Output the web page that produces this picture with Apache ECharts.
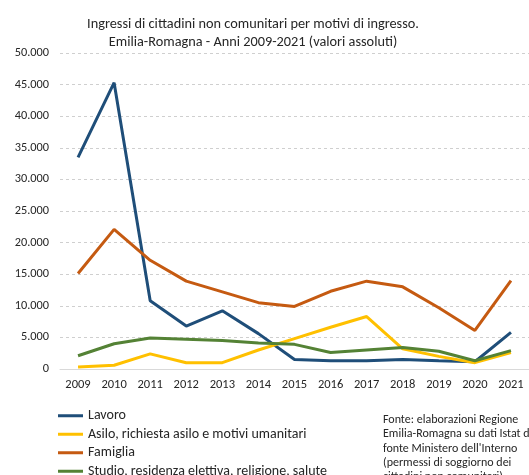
<!DOCTYPE html>
<html><head><meta charset="utf-8">
<script src="https://cdn.jsdelivr.net/npm/echarts@6/dist/echarts.min.js"></script>
<style>html,body{margin:0;padding:0;background:#fff}#c{width:529px;height:475px}</style>
</head><body><div id="c"></div>
<script>
const years = ['2009','2010','2011','2012','2013','2014','2015','2016','2017','2018','2019','2020','2021'];
const lavoro = [33500,45300,10800,6800,9200,5600,1500,1300,1300,1500,1300,1150,5800];
const asilo = [300,600,2400,1000,1000,3000,4800,6600,8300,3200,2000,1000,2600];
const famiglia = [15100,22100,17200,13900,12200,10500,9900,12300,13900,13000,9700,6100,14000];
const studio = [2100,4000,4900,4700,4500,4100,3900,2600,3000,3400,2800,1300,2900];
const yTicks = [0,5000,10000,15000,20000,25000,30000,35000,40000,45000,50000];
const seriesNames = ['Lavoro','Asilo, richiesta asilo e motivi umanitari','Famiglia','Studio, residenza elettiva, religione, salute'];
const colors = ['#1F4E79','#FFC000','#C55A11','#548235'];
const titleText = 'Ingressi di cittadini non comunitari per motivi di ingresso.\nEmilia-Romagna - Anni 2009-2021 (valori assoluti)';
const sourceText = "Fonte: elaborazioni Regione\nEmilia-Romagna su dati Istat di\nfonte Ministero dell'Interno\n(permessi di soggiorno dei\ncittadini non comunitari)";

const font = 'Calibri, Carlito, "Open Sans", sans-serif';
const chart = echarts.init(document.getElementById('c'));
const dataArr = [lavoro, asilo, famiglia, studio];
chart.setOption({
  animation: false,
  textStyle: {fontFamily: font},
  title: {text: titleText, left: 248, textAlign: 'center', top: 10,
    textStyle: {fontSize: 14.3, fontWeight: 'normal', color: '#262626', lineHeight: 18, fontFamily: font}},
  grid: {left: 60, top: 53, width: 471, height: 316, containLabel: false},
  xAxis: {type: 'category', data: years, boundaryGap: true,
    axisLine: {lineStyle: {color: '#D9D9D9', width: 1}}, axisTick: {show: false},
    axisLabel: {color: '#262626', fontSize: 12.5, margin: 9, interval: 0, fontFamily: font}},
  yAxis: {type: 'value', min: yTicks[0], max: yTicks[yTicks.length-1], interval: 5000,
    axisLine: {show: false}, axisTick: {show: false},
    splitLine: {lineStyle: {color: '#CFCFCF', type: [3,3], width: 1}},
    axisLabel: {color: '#262626', fontSize: 12.3, margin: 11, fontFamily: font,
      formatter: v => v.toLocaleString('it-IT').replace(/\u00a0/g,'.').replace(/,/g,'.')}},
  legend: {orient: 'vertical', left: 58, top: 408, height: 100, itemWidth: 25, itemHeight: 3, itemGap: 3,
    padding: 0, icon: 'rect', textStyle: {fontSize: 14, color: '#262626', fontFamily: font, lineHeight: 15.5}, data: seriesNames},
  graphic: [{type: 'text', left: 383, top: 413,
    style: {text: sourceText, fontSize: 12, lineHeight: 14.3, fill: '#262626', fontFamily: font}}],
  series: seriesNames.map((n, i) => ({name: n, type: 'line', data: dataArr[i], symbol: 'none',
    lineStyle: {color: colors[i], width: 3}, itemStyle: {color: colors[i]}}))
});
</script></body></html>
